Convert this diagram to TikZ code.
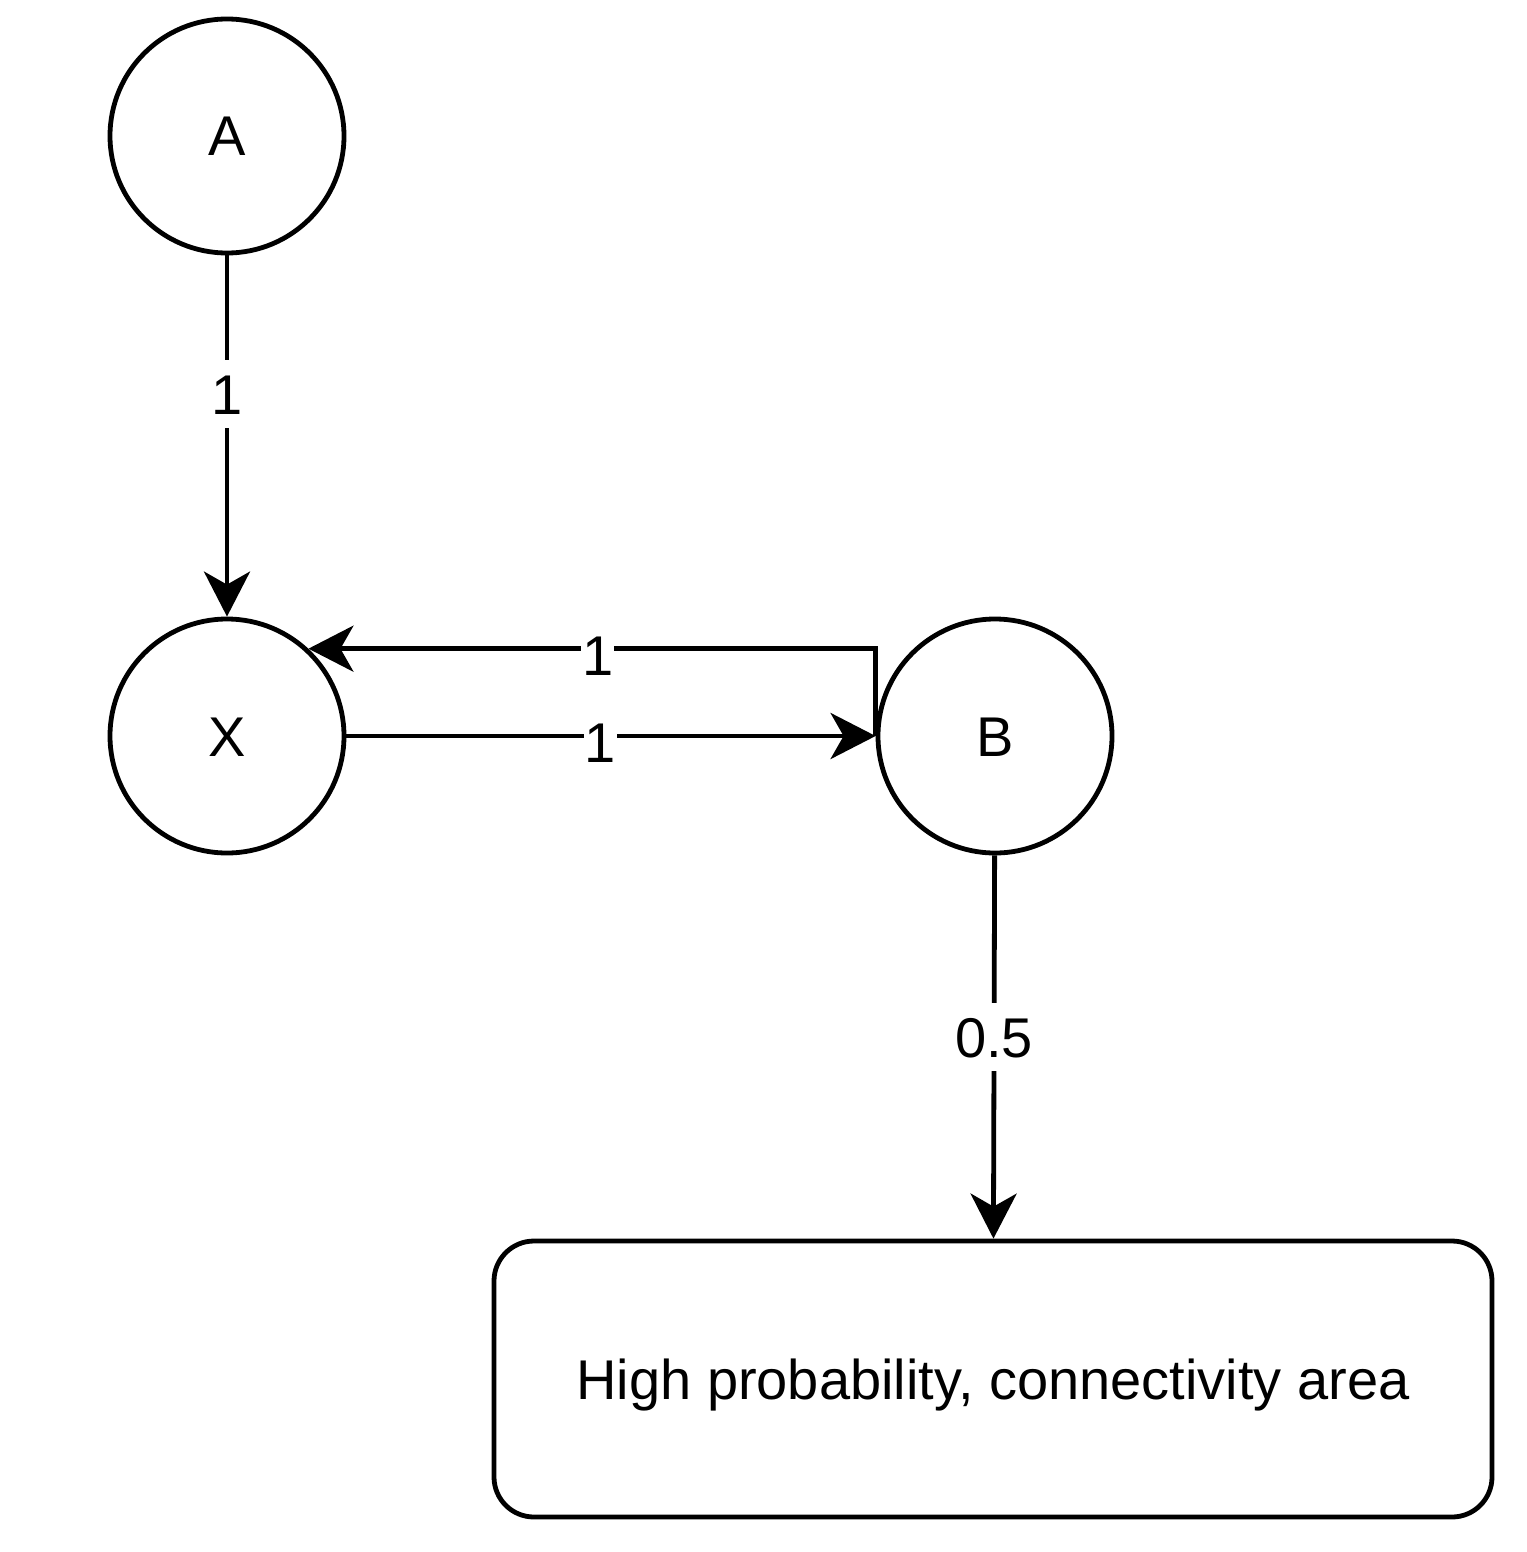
\documentclass[tikz,border=0pt]{standalone}
\usepackage{fontspec}
\setmainfont{Liberation Sans}
\usetikzlibrary{arrows.meta}
\begin{document}
\begin{tikzpicture}[x=1pt,y=-1pt,
  every node/.style={font=\fontsize{56}{67}\selectfont},
  circ/.style={circle,draw,line width=4.8pt,minimum size=234pt,inner sep=0pt,text height=40pt,text depth=0pt},
  areabox/.style={rectangle,rounded corners=40pt,draw,line width=4.8pt,minimum width=998pt,minimum height=276pt,text height=40pt,text depth=0pt},
  arr/.style={line width=4.8pt,-{Stealth[length=45pt,width=46pt,inset=13pt]}},
  lbl/.style={fill=white,inner xsep=1pt,inner ysep=14pt,text height=40pt,text depth=0pt}]
\useasboundingbox (0,0) rectangle (1526,1552);
\node[circ] (A) at (227,136) {A};
\node[circ] (X) at (227,736) {X};
\node[circ] (B) at (995,736) {B};
\node[areabox] (C) at (993,1379) {High probability, connectivity area};
\draw[arr] (A) -- node[lbl,pos=0.385]{1} (X);
\draw[arr] (X) -- node[lbl,pos=0.48,yshift=-6pt,inner ysep=2pt]{1} (B);
\draw[arr] (B.west) |- node[lbl,pos=0.745,yshift=-7pt,inner ysep=2pt]{1} (X.47.7);
\draw[arr] (B) -- node[lbl,pos=0.475]{0.5} (C);
\end{tikzpicture}
\end{document}
